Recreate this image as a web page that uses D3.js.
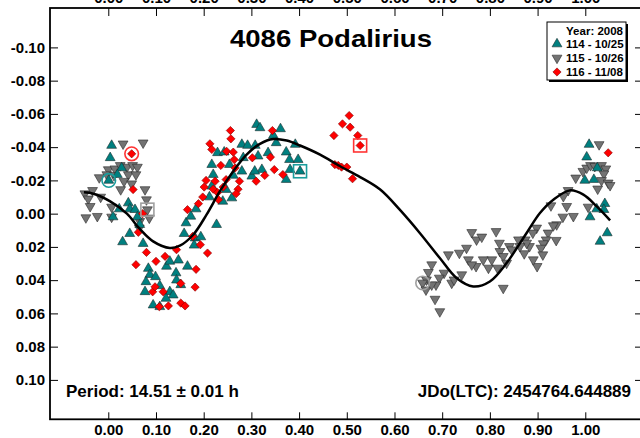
<!DOCTYPE html>
<html><head><meta charset="utf-8">
<script src="https://cdn.jsdelivr.net/npm/d3@7"></script>
<style>body{margin:0;background:#fff}svg{display:block}text{font-family:"Liberation Sans",Arial,sans-serif;font-weight:bold}</style>
</head><body><svg id="c" width="640" height="438"></svg>
<script>
const title = "4086 Podalirius";
const periodText = "Period: 14.51 ± 0.01 h";
const jdText = "JDo(LTC): 2454764.644889";
const legendTitle = "Year: 2008";
const seriesNames = ["114 - 10/25", "115 - 10/26", "116 - 11/08"];
const xTicks = [0,0.1,0.2,0.3,0.4,0.5,0.6,0.7,0.8,0.9,1.0];
const yTicks = [-0.10,-0.08,-0.06,-0.04,-0.02,0,0.02,0.04,0.06,0.08,0.10];

// [phase, magnitude]
const s114 = [[0.007,-0.041],[0.004,-0.0336],[0.028,-0.0275],[0.019,-0.0235],[0.001,-0.020],[0.042,-0.0064],[0.045,-0.0028],[0.023,-0.0028],[0.056,-0.0024],[0.010,0.002],[0.061,0.002],[0.066,0.0066],[0.045,0.012],[0.030,0.017],[0.073,0.018],
[0.084,0.033],[0.087,0.0367],[0.079,0.041],[0.099,0.038],[0.108,0.0434],[0.122,0.0317],[0.129,0.0287],[0.147,0.028],[0.142,0.0357],[0.143,0.040],[0.166,0.0317],[0.152,0.0428],[0.129,0.047],[0.136,0.049],[0.121,0.051],[0.094,0.055],[0.077,0.047],[0.108,0.056],
[0.159,0.012],[0.163,0.0056],[0.173,0.0016],[0.184,-0.0028],[0.182,0.0147],[0.194,0.014],[0.180,0.019],[0.212,-0.010],[0.227,0.0066],[0.217,-0.0165],[0.217,-0.0295],[0.240,-0.0074],[0.259,-0.0094],[0.247,-0.0145],[0.220,-0.0235],[0.229,-0.0366],[0.243,-0.037],[0.254,-0.0295],
[0.280,-0.0416],[0.283,-0.0336],[0.292,-0.041],[0.308,-0.041],[0.311,-0.0536],[0.318,-0.0516],[0.346,-0.047],[0.361,-0.051],[0.352,-0.0426],[0.373,-0.037],[0.380,-0.0325],[0.392,-0.0416],[0.398,-0.0325],[0.402,-0.0255],[0.373,-0.0205],[0.322,-0.0265],[0.301,-0.0225],[0.307,-0.0255],[0.280,-0.0255],[0.262,-0.023],[0.381,-0.0265],[0.335,-0.0366],[0.314,-0.0346],
[1.008,-0.0416],[1.003,-0.034],[1.025,-0.0275],[0.999,-0.020],[1.018,-0.0205],[1.041,-0.006],[1.010,0.002],[1.024,-0.0028],[1.039,-0.0024],[1.046,0.0116],[1.031,0.0167]];

const s115 = [[0.031,-0.042],[0.073,-0.0426],[0.000,-0.0265],[0.014,-0.027],[0.025,-0.029],[0.039,-0.028],[0.051,-0.029],[0.061,-0.028],[-0.003,-0.0235],[0.012,-0.023],[0.042,-0.0235],[0.058,-0.0235],[-0.019,-0.0217],[0.033,-0.0195],[0.049,-0.018],[0.026,-0.0145],[0.077,-0.0145],
[-0.049,-0.012],[-0.033,-0.014],[-0.042,-0.0089],[-0.016,-0.010],[-0.038,-0.0044],[-0.047,0.0024],[-0.023,0.0016],[0.007,-0.004],[0.007,0.002],[0.080,-0.0084],[0.082,-0.0024],[0.086,0.0026],[0.066,0.0046],[0.065,0.0086],
[1.029,-0.0416],[0.980,-0.0215],[0.995,-0.0255],[1.003,-0.0275],[1.011,-0.029],[1.020,-0.0285],[1.034,-0.029],[1.043,-0.027],[1.039,-0.024],[1.034,-0.020],[1.048,-0.0185],[1.052,-0.017],[1.026,-0.0149],[1.006,-0.004],[0.975,0.0016],[0.961,-0.0044],[0.964,-0.014],[0.954,-0.0104],[0.953,0.002],[0.928,-0.0048],
[0.940,0.0066],[0.933,0.0072],[0.922,0.0116],[0.939,0.016],[0.918,0.0157],[0.912,0.018],[0.907,0.0207],[0.911,0.0247],[0.899,0.0317],[0.891,0.0277],[0.883,0.0197],[0.898,0.0086],[0.890,0.0116],[0.874,0.0157],[0.872,0.024],[0.877,0.0177],[0.860,0.0157],[0.863,0.0197],[0.841,0.0197],[0.846,0.0217],
[0.821,0.0227],[0.828,0.0257],[0.835,0.0297],[0.813,0.0107],[0.820,0.0177],[0.804,0.0277],[0.797,0.0327],[0.816,0.0327],[0.828,0.0448],[0.786,0.0277],[0.771,0.0317],[0.762,0.0113],[0.772,0.0157],[0.783,0.014],[0.751,0.0207],[0.755,0.0277],[0.762,0.0307],[0.736,0.0237],[0.713,0.0247],
[0.741,0.0367],[0.720,0.0417],[0.725,0.0398],[0.704,0.0357],[0.694,0.0387],[0.687,0.0428],[0.678,0.0307],[0.671,0.0353],[0.667,0.0398],[0.659,0.0417],[0.666,0.0458],[0.685,0.0514],[0.695,0.0589],[0.678,0.0428]];

const s116 = [[0.049,-0.036],[0.052,-0.0145],[0.072,0.000],[0.063,0.0112],[0.080,0.0233],[0.058,0.0307],[0.100,0.0287],[0.119,0.0257],[0.143,0.0217],[0.184,0.0335],[0.182,0.0442],[0.152,0.042],[0.093,0.047],[0.098,0.044],[0.115,0.047],[0.107,0.056],[0.126,0.0555],[0.152,0.0538],[0.161,0.0555],
[0.177,0.0137],[0.193,0.0187],[0.208,0.0237],[0.166,-0.0024],[0.189,-0.006],[0.198,-0.010],[0.201,-0.016],[0.205,-0.020],[0.224,-0.0195],[0.220,-0.0147],[0.229,-0.0127],[0.241,-0.016],[0.247,-0.0205],[0.236,-0.029],[0.213,-0.042],[0.217,-0.0386],[0.256,-0.050],[0.257,-0.045],[0.248,-0.0375],[0.262,-0.037],[0.264,-0.0325],[0.266,-0.0275],[0.275,-0.0195],[0.272,-0.0147],[0.268,-0.012],[0.231,-0.0084],
[0.302,-0.0336],[0.340,-0.034],[0.344,-0.050],[0.348,-0.0265],[0.328,-0.023],[0.310,-0.0195],[0.366,-0.0235],
[0.505,-0.059],[0.491,-0.054],[0.507,-0.052],[0.473,-0.047],[0.523,-0.047],[0.528,-0.041],[0.475,-0.0295],[0.482,-0.029],[0.489,-0.028],[0.500,-0.028],[0.512,-0.021],[1.048,-0.0366]];

// fitted curve
const fitCurve = [[-0.051,-0.0128],[-0.031,-0.012],[0.004,-0.0074],[0.039,0.000],[0.066,0.0092],[0.094,0.0167],[0.129,0.0207],[0.150,0.0193],[0.178,0.0127],[0.206,0.0006],[0.234,-0.0135],[0.262,-0.0255],[0.290,-0.0355],[0.318,-0.042],[0.346,-0.0449],[0.374,-0.044],[0.402,-0.041],[0.444,-0.0355],[0.486,-0.0285],[0.528,-0.022],[0.570,-0.0145],[0.611,-0.0024],[0.653,0.0116],[0.695,0.0267],[0.730,0.0387],[0.765,0.0438],[0.800,0.0408],[0.835,0.0297],[0.877,0.0116],[0.905,-0.0004],[0.933,-0.0084],[0.968,-0.014],[0.996,-0.0114],[1.024,-0.0044],[1.052,0.004]];

// session start/end highlights [phase, mag, kind, series]
const highlights = [[0.001,-0.020,"circle",0],[0.402,-0.0255,"square",0],[0.659,0.0417,"circle",1],[0.082,-0.0024,"square",1],[0.049,-0.036,"circle",2],[0.528,-0.041,"square",2]];

const fills = ["#008080","#737373","#ff0000"];
const strokes = ["#1f2d2d","#2a2a2a","#8a0000"];
const hiColors = ["#1a9c9c","#a0a0a0","#ff3333"];

const svg = d3.select("#c");
const L=50, R=641, T=8, B=419.3;
const x = d3.scaleLinear().domain([-0.1222,1.1168]).range([L,R]);
const y = d3.scaleLinear().domain([-0.1237,0.1237]).range([T,B]);

svg.append("rect").attr("width",640).attr("height",438).attr("fill","#fff");

const fmt = d => d.toFixed(2);
function styleAxis(g){ g.select(".domain").remove(); g.selectAll("line").attr("stroke","#000").attr("stroke-width",1); g.selectAll("text").attr("font-size",15).attr("font-family","Liberation Sans, Arial, sans-serif").attr("font-weight","bold").attr("fill","#000"); }

svg.append("g").attr("transform",`translate(0,${B})`).call(d3.axisBottom(x).tickValues(xTicks).tickFormat(fmt).tickSizeInner(-7).tickSizeOuter(0).tickPadding(5)).call(styleAxis);
svg.append("g").attr("transform",`translate(0,${T})`).call(d3.axisTop(x).tickValues(xTicks).tickFormat(fmt).tickSizeInner(-8).tickSizeOuter(0).tickPadding(5)).call(styleAxis);
svg.append("g").attr("transform",`translate(${L},0)`).call(d3.axisLeft(y).tickValues(yTicks).tickFormat(fmt).tickSizeInner(-8).tickSizeOuter(0).tickPadding(5)).call(styleAxis);
svg.append("g").attr("transform",`translate(${R},0)`).call(d3.axisRight(y).tickValues(yTicks).tickFormat("").tickSizeInner(-6).tickSizeOuter(0)).call(styleAxis);

svg.append("rect").attr("x",L).attr("y",T).attr("width",R-L).attr("height",B-T).attr("fill","none").attr("stroke","#000").attr("stroke-width",1.8);

const sym = [d3.symbol().type(d3.symbolTriangle).size(42), d3.symbol().type(d3.symbolTriangle).size(42), d3.symbol().type(d3.symbolSquare).size(34)];
const rot = [0,180,45];
const order = [1,0,2];
const data = [s114,s115,s116];
order.forEach(i=>{
  svg.append("g").selectAll("path").data(data[i]).join("path")
    .attr("d",sym[i]())
    .attr("transform",d=>`translate(${x(d[0])},${y(d[1])}) rotate(${rot[i]})`)
    .attr("fill",fills[i]).attr("stroke",strokes[i]).attr("stroke-width",0.6);
});

svg.append("path").datum(fitCurve)
  .attr("d",d3.line().x(d=>x(d[0])).y(d=>y(d[1])).curve(d3.curveCatmullRom))
  .attr("fill","none").attr("stroke","#000").attr("stroke-width",2.5);

highlights.forEach(h=>{
  const cx=x(h[0]), cy=y(h[1]);
  if(h[2]==="circle") svg.append("circle").attr("cx",cx).attr("cy",cy).attr("r",6.8).attr("fill","none").attr("stroke",hiColors[h[3]]).attr("stroke-width",1.6);
  else svg.append("rect").attr("x",cx-6.5).attr("y",cy-6.5).attr("width",13).attr("height",13).attr("fill","none").attr("stroke",hiColors[h[3]]).attr("stroke-width",1.6);
});

svg.append("text").attr("x",230).attr("y",47).attr("font-size",24).attr("textLength",202).attr("lengthAdjust","spacingAndGlyphs").text(title);
svg.append("text").attr("x",66).attr("y",397).attr("font-size",17).text(periodText);
svg.append("text").attr("x",631).attr("y",397).attr("font-size",17).attr("text-anchor","end").text(jdText);

// legend
const lg = svg.append("g");
lg.append("rect").attr("x",549).attr("y",24).attr("width",79).attr("height",58).attr("fill","#000");
lg.append("rect").attr("x",547).attr("y",22).attr("width",79).attr("height",58).attr("fill","#fff").attr("stroke","#000").attr("stroke-width",1);
lg.append("text").attr("x",623).attr("y",35).attr("font-size",11.5).attr("text-anchor","end").text(legendTitle);
seriesNames.forEach((n,i)=>{
  const yy = 44 + i*14;
  lg.append("path").attr("d",sym[i]()).attr("transform",`translate(557,${yy}) rotate(${rot[i]})`).attr("fill",fills[i]).attr("stroke",strokes[i]).attr("stroke-width",0.6);
  lg.append("text").attr("x",566).attr("y",yy+4).attr("font-size",11.5).text(n);
});
</script></body></html>
